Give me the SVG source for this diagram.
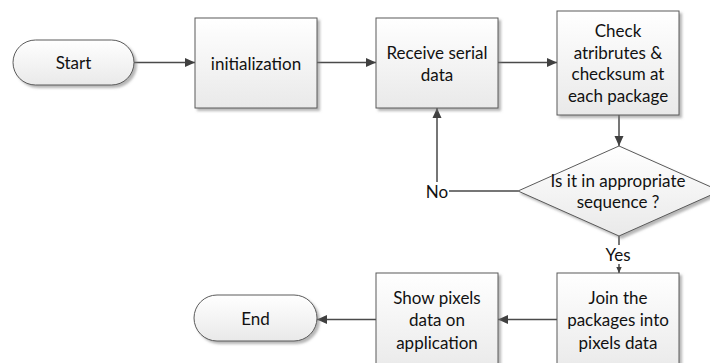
<svg xmlns="http://www.w3.org/2000/svg" width="710" height="363" viewBox="0 0 710 363">
<defs>
<linearGradient id="g" x1="0" y1="0" x2="0" y2="1">
<stop offset="0" stop-color="#ffffff"/>
<stop offset="1" stop-color="#e9e9e9"/>
</linearGradient>
<filter id="sh" x="-10%" y="-10%" width="130%" height="130%">
<feDropShadow dx="2.5" dy="2.5" stdDeviation="0.8" flood-color="#7a7a7a" flood-opacity="0.55"/>
</filter>
<marker id="ah" viewBox="0 0 10 10" refX="10" refY="5" markerWidth="10" markerHeight="10" markerUnits="userSpaceOnUse" orient="auto">
<path d="M0,0.5 L10,5 L0,9.5 Z" fill="#404040"/>
</marker>
<marker id="ahs" viewBox="0 0 10 10" refX="10" refY="5" markerWidth="6" markerHeight="6" markerUnits="userSpaceOnUse" orient="auto">
<path d="M0,0.5 L10,5 L0,9.5 Z" fill="#404040"/>
</marker>
</defs>
<style>
.n{fill:url(#g);stroke:#5a5a5a;stroke-width:1;filter:url(#sh)}
.t{font-family:Lato,"Open Sans",sans-serif;font-size:17px;fill:#111;text-anchor:middle;dominant-baseline:central}
.c{fill:none;stroke:#4a4a4a;stroke-width:1.5}
</style>
<rect width="710" height="363" fill="#ffffff"/>
<g id="connectors">
<path class="c" d="M134,62.5 H195" marker-end="url(#ah)"/>
<path class="c" d="M317,62.5 H376" marker-end="url(#ah)"/>
<path class="c" d="M498,62.5 H557" marker-end="url(#ah)"/>
<path class="c" d="M619,115 V146" marker-end="url(#ah)"/>
<path class="c" d="M518,191 H437 V108" marker-end="url(#ah)"/>
<path class="c" d="M619,236 V245"/>
<path class="c" d="M619,264 V273" marker-end="url(#ahs)"/>
<path class="c" d="M557,319.5 H498" marker-end="url(#ah)"/>
<path class="c" d="M376,319.5 H317" marker-end="url(#ah)"/>
<rect x="424" y="182" width="25" height="18" fill="#ffffff"/>
<text class="t" x="437" y="191">No</text>
<text class="t" x="618" y="254">Yes</text>
</g>
<g id="start">
<rect class="n" x="13" y="40" width="121" height="45" rx="22.5" ry="22.5"/>
<text class="t" x="73.5" y="62.5">Start</text>
</g>
<g id="init">
<rect class="n" x="195" y="18" width="122" height="90"/>
<text class="t" x="256" y="63">initialization</text>
</g>
<g id="receive">
<rect class="n" x="376" y="18" width="122" height="90"/>
<text class="t" x="437" y="52">Receive serial</text>
<text class="t" x="437" y="74">data</text>
</g>
<g id="check">
<rect class="n" x="557" y="11" width="122" height="104"/>
<text class="t" x="618" y="30.5">Check</text>
<text class="t" x="618" y="52.2">atribrutes &amp;</text>
<text class="t" x="618" y="73.8">checksum at</text>
<text class="t" x="618" y="95.5">each package</text>
</g>
<g id="decision">
<polygon class="n" points="619,146 720,191 619,236 518,191"/>
<text class="t" x="618" y="180">Is it in appropriate</text>
<text class="t" x="618" y="201">sequence ?</text>
</g>
<g id="join">
<rect class="n" x="557" y="273" width="122" height="100"/>
<text class="t" x="618" y="297">Join the</text>
<text class="t" x="618" y="319.5">packages into</text>
<text class="t" x="618" y="342">pixels data</text>
</g>
<g id="show">
<rect class="n" x="376" y="273" width="122" height="100"/>
<text class="t" x="437" y="297">Show pixels</text>
<text class="t" x="437" y="319.5">data on</text>
<text class="t" x="437" y="342">application</text>
</g>
<g id="end">
<rect class="n" x="194" y="295" width="123" height="46" rx="23" ry="23"/>
<text class="t" x="255.5" y="318">End</text>
</g>
</svg>
